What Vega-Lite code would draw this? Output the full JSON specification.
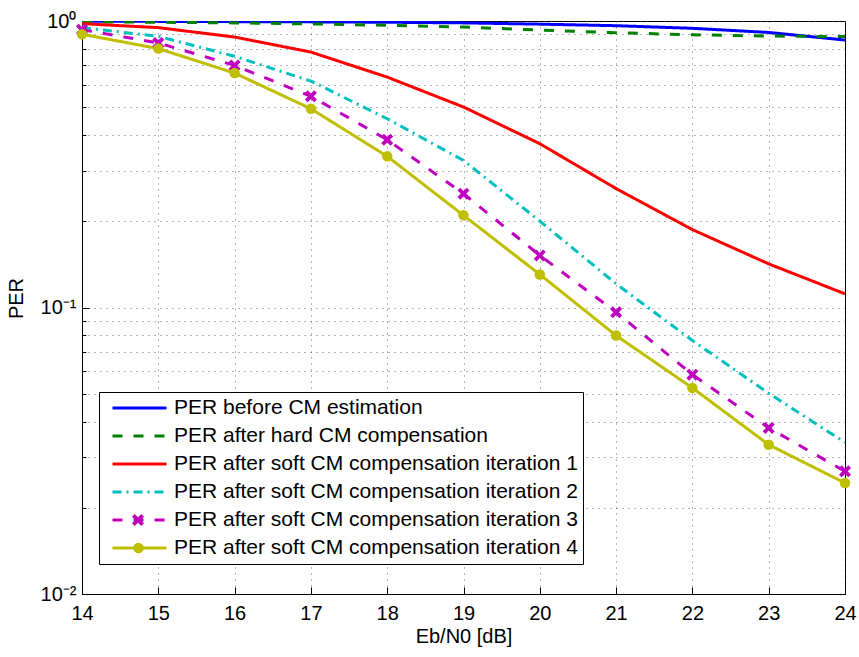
{
  "$schema": "https://vega.github.io/schema/vega-lite/v6.json",
  "width": 763,
  "height": 573,
  "autosize": {"type": "none"},
  "padding": {"left": 82, "top": 21, "right": 14, "bottom": 63},
  "background": "#ffffff",
  "config": {
    "font": "Liberation Sans",
    "view": {"stroke": "#000000", "strokeWidth": 1},
    "axis": {"domainColor": "#000000", "tickColor": "#000000", "labelColor": "#000000", "titleColor": "#000000", "labelFont": "Liberation Sans", "titleFont": "Liberation Sans", "labelFontSize": 20, "titleFontSize": 20, "titleFontWeight": "normal", "gridColor": "#333333", "gridOpacity": 0.75, "gridDash": [1, 5], "gridWidth": 1}
  },
  "datasets": {
    "per": [
      {"series": "PER before CM estimation", "ebn0": 14, "per": 0.998},
      {"series": "PER before CM estimation", "ebn0": 15, "per": 0.997},
      {"series": "PER before CM estimation", "ebn0": 16, "per": 0.995},
      {"series": "PER before CM estimation", "ebn0": 17, "per": 0.993},
      {"series": "PER before CM estimation", "ebn0": 18, "per": 0.99},
      {"series": "PER before CM estimation", "ebn0": 19, "per": 0.985},
      {"series": "PER before CM estimation", "ebn0": 20, "per": 0.975},
      {"series": "PER before CM estimation", "ebn0": 21, "per": 0.963},
      {"series": "PER before CM estimation", "ebn0": 22, "per": 0.943},
      {"series": "PER before CM estimation", "ebn0": 23, "per": 0.912},
      {"series": "PER before CM estimation", "ebn0": 24, "per": 0.858},
      {"series": "PER after hard CM compensation", "ebn0": 14, "per": 0.994},
      {"series": "PER after hard CM compensation", "ebn0": 15, "per": 0.99},
      {"series": "PER after hard CM compensation", "ebn0": 16, "per": 0.985},
      {"series": "PER after hard CM compensation", "ebn0": 17, "per": 0.977},
      {"series": "PER after hard CM compensation", "ebn0": 18, "per": 0.966},
      {"series": "PER after hard CM compensation", "ebn0": 19, "per": 0.952},
      {"series": "PER after hard CM compensation", "ebn0": 20, "per": 0.93},
      {"series": "PER after hard CM compensation", "ebn0": 21, "per": 0.91},
      {"series": "PER after hard CM compensation", "ebn0": 22, "per": 0.895},
      {"series": "PER after hard CM compensation", "ebn0": 23, "per": 0.886},
      {"series": "PER after hard CM compensation", "ebn0": 24, "per": 0.882},
      {"series": "PER after soft CM compensation iteration 1", "ebn0": 14, "per": 0.979},
      {"series": "PER after soft CM compensation iteration 1", "ebn0": 15, "per": 0.948},
      {"series": "PER after soft CM compensation iteration 1", "ebn0": 16, "per": 0.879},
      {"series": "PER after soft CM compensation iteration 1", "ebn0": 17, "per": 0.779},
      {"series": "PER after soft CM compensation iteration 1", "ebn0": 18, "per": 0.637},
      {"series": "PER after soft CM compensation iteration 1", "ebn0": 19, "per": 0.501},
      {"series": "PER after soft CM compensation iteration 1", "ebn0": 20, "per": 0.373},
      {"series": "PER after soft CM compensation iteration 1", "ebn0": 21, "per": 0.26},
      {"series": "PER after soft CM compensation iteration 1", "ebn0": 22, "per": 0.187},
      {"series": "PER after soft CM compensation iteration 1", "ebn0": 23, "per": 0.142},
      {"series": "PER after soft CM compensation iteration 1", "ebn0": 24, "per": 0.1116},
      {"series": "PER after soft CM compensation iteration 2", "ebn0": 14, "per": 0.948},
      {"series": "PER after soft CM compensation iteration 2", "ebn0": 15, "per": 0.884},
      {"series": "PER after soft CM compensation iteration 2", "ebn0": 16, "per": 0.753},
      {"series": "PER after soft CM compensation iteration 2", "ebn0": 17, "per": 0.617},
      {"series": "PER after soft CM compensation iteration 2", "ebn0": 18, "per": 0.456},
      {"series": "PER after soft CM compensation iteration 2", "ebn0": 19, "per": 0.326},
      {"series": "PER after soft CM compensation iteration 2", "ebn0": 20, "per": 0.2002},
      {"series": "PER after soft CM compensation iteration 2", "ebn0": 21, "per": 0.121},
      {"series": "PER after soft CM compensation iteration 2", "ebn0": 22, "per": 0.0767},
      {"series": "PER after soft CM compensation iteration 2", "ebn0": 23, "per": 0.0502},
      {"series": "PER after soft CM compensation iteration 2", "ebn0": 24, "per": 0.0338},
      {"series": "PER after soft CM compensation iteration 3", "ebn0": 14, "per": 0.933},
      {"series": "PER after soft CM compensation iteration 3", "ebn0": 15, "per": 0.838},
      {"series": "PER after soft CM compensation iteration 3", "ebn0": 16, "per": 0.7},
      {"series": "PER after soft CM compensation iteration 3", "ebn0": 17, "per": 0.546},
      {"series": "PER after soft CM compensation iteration 3", "ebn0": 18, "per": 0.385},
      {"series": "PER after soft CM compensation iteration 3", "ebn0": 19, "per": 0.2495},
      {"series": "PER after soft CM compensation iteration 3", "ebn0": 20, "per": 0.152},
      {"series": "PER after soft CM compensation iteration 3", "ebn0": 21, "per": 0.0963},
      {"series": "PER after soft CM compensation iteration 3", "ebn0": 22, "per": 0.0583},
      {"series": "PER after soft CM compensation iteration 3", "ebn0": 23, "per": 0.038},
      {"series": "PER after soft CM compensation iteration 3", "ebn0": 24, "per": 0.0268},
      {"series": "PER after soft CM compensation iteration 4", "ebn0": 14, "per": 0.899},
      {"series": "PER after soft CM compensation iteration 4", "ebn0": 15, "per": 0.801},
      {"series": "PER after soft CM compensation iteration 4", "ebn0": 16, "per": 0.658},
      {"series": "PER after soft CM compensation iteration 4", "ebn0": 17, "per": 0.494},
      {"series": "PER after soft CM compensation iteration 4", "ebn0": 18, "per": 0.337},
      {"series": "PER after soft CM compensation iteration 4", "ebn0": 19, "per": 0.2097},
      {"series": "PER after soft CM compensation iteration 4", "ebn0": 20, "per": 0.1304},
      {"series": "PER after soft CM compensation iteration 4", "ebn0": 21, "per": 0.0798},
      {"series": "PER after soft CM compensation iteration 4", "ebn0": 22, "per": 0.0524},
      {"series": "PER after soft CM compensation iteration 4", "ebn0": 23, "per": 0.0332},
      {"series": "PER after soft CM compensation iteration 4", "ebn0": 24, "per": 0.0244}
    ]
  },
  "data": {"name": "per"},
  "encoding": {
    "x": {"field": "ebn0", "type": "quantitative",
      "scale": {"domain": [14, 24], "nice": false, "zero": false},
      "axis": {"values": [14, 15, 16, 17, 18, 19, 20, 21, 22, 23, 24], "format": "d", "grid": true, "tickSize": -7, "labelPadding": 16, "labelFlush": false, "labelOverlap": false, "title": "Eb/N0 [dB]", "titleBaseline": "alphabetic", "titleX": 381.5, "titleY": 48, "titleAlign": "center"}},
    "y": {"field": "per", "type": "quantitative",
      "scale": {"type": "log", "domain": [0.01, 1], "nice": false},
      "axis": {"values": [0.01, 0.02, 0.03, 0.04, 0.05, 0.06, 0.07, 0.08, 0.09, 0.1, 0.2, 0.3, 0.4, 0.5, 0.6, 0.7, 0.8, 0.9, 1],
        "labelExpr": "datum.value == 1 ? '10⁰' : datum.value == 0.1 ? '10⁻¹' : datum.value == 0.01 ? '10⁻²' : ''",
        "grid": true, "tickSize": {"condition": {"test": "datum.value == 1 || datum.value == 0.1 || datum.value == 0.01", "value": -7}, "value": -4},
        "labelPadding": 13, "labelFlush": false, "labelOverlap": false,
        "title": "PER", "titleX": -66, "titleY": 277, "titleAngle": -90, "titleAlign": "center", "titleBaseline": "middle"}}
  },
  "layer": [
    {
      "mark": {"type": "line", "strokeWidth": 3, "clip": true},
      "encoding": {
        "color": {"field": "series", "type": "nominal",
          "scale": {"domain": ["PER before CM estimation", "PER after hard CM compensation", "PER after soft CM compensation iteration 1", "PER after soft CM compensation iteration 2", "PER after soft CM compensation iteration 3", "PER after soft CM compensation iteration 4"],
            "range": ["#0000FF", "#008000", "#FF0000", "#00BFBF", "#BF00BF", "#BFBF00"]},
          "legend": {"orient": "none", "legendX": 17, "legendY": 371, "title": null, "symbolType": "stroke", "symbolSize": 2916, "symbolStrokeWidth": 3, "clipHeight": 22, "rowPadding": 6, "padding": 5, "symbolOffset": 7, "labelOffset": 6, "labelFontSize": 21, "labelFont": "Liberation Sans", "labelColor": "#000000", "labelLimit": 1000, "strokeColor": "#000000", "fillColor": "#ffffff", "zindex": 1}},
        "strokeDash": {"field": "series", "type": "nominal",
          "scale": {"domain": ["PER before CM estimation", "PER after hard CM compensation", "PER after soft CM compensation iteration 1", "PER after soft CM compensation iteration 2", "PER after soft CM compensation iteration 3", "PER after soft CM compensation iteration 4"],
            "range": [[1, 0], [10, 11], [1, 0], [9, 5, 2, 5], [10, 11], [1, 0]]},
          "legend": {"orient": "none", "legendX": 17, "legendY": 371, "title": null, "symbolType": "stroke", "symbolSize": 2916, "symbolStrokeWidth": 3, "clipHeight": 22, "rowPadding": 6, "padding": 5, "symbolOffset": 7, "labelOffset": 6, "labelFontSize": 21, "labelFont": "Liberation Sans", "labelColor": "#000000", "labelLimit": 1000, "strokeColor": "#000000", "fillColor": "#ffffff", "zindex": 1}}
      }
    },
    {
      "transform": [{"filter": "datum.series == 'PER after soft CM compensation iteration 3'"}],
      "mark": {"type": "point", "filled": true, "color": "#BF00BF", "size": 144, "opacity": 1},
      "encoding": {
        "shape": {"field": "series", "type": "nominal",
          "scale": {"domain": ["PER after soft CM compensation iteration 3"], "range": ["M-1,-0.55L-0.55,-1L0,-0.45L0.55,-1L1,-0.55L0.45,0L1,0.55L0.55,1L0,0.45L-0.55,1L-1,0.55L-0.45,0Z"]},
          "legend": {"orient": "none", "legendX": 50, "legendY": 488, "title": null, "symbolSize": 144, "clipHeight": 22, "padding": 0, "symbolOffset": 0, "labelExpr": "''", "symbolFillColor": "#BF00BF", "symbolStrokeColor": "#BF00BF", "symbolStrokeWidth": 0, "zindex": 2}}
      }
    },
    {
      "transform": [{"filter": "datum.series == 'PER after soft CM compensation iteration 4'"}],
      "mark": {"type": "point", "filled": true, "color": "#BFBF00", "size": 110, "opacity": 1},
      "encoding": {
        "shape": {"field": "series", "type": "nominal",
          "scale": {"domain": ["PER after soft CM compensation iteration 4"], "range": ["circle"]},
          "legend": {"orient": "none", "legendX": 51, "legendY": 516, "title": null, "symbolSize": 110, "clipHeight": 22, "padding": 0, "symbolOffset": 0, "labelExpr": "''", "symbolFillColor": "#BFBF00", "symbolStrokeColor": "#BFBF00", "symbolStrokeWidth": 0, "zindex": 2}}
      }
    }
  ],
  "resolve": {"scale": {"shape": "independent"}, "legend": {"shape": "independent"}}
}
